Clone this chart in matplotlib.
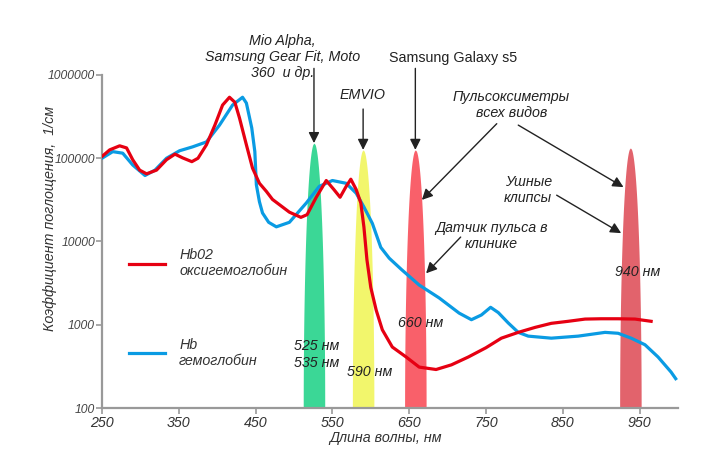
import numpy as np
import matplotlib.pyplot as plt
from matplotlib.ticker import FixedLocator, NullLocator

plt.rcParams['font.family'] = ['Liberation Sans', 'DejaVu Sans']

# HbO2 - oxyhemoglobin
hbo2_nm = [250, 260, 273, 282, 290, 299, 308, 321, 334, 345, 355, 367, 375, 386, 397, 407,
           416, 423, 429, 438, 446, 455, 464, 472, 494, 509, 517, 529, 542, 552, 560, 568,
           574, 581, 587, 591, 595, 600, 607, 615, 628, 646, 663, 685, 705, 727, 750, 770,
           792, 814, 835, 857, 879, 900, 922, 944, 965]
hbo2_val = [105000, 126000, 141000, 133000, 96000, 72000, 65000, 72000, 96000, 112000,
            101000, 91000, 100000, 145000, 250000, 435000, 540000, 470000, 305000, 145000,
            76000, 50000, 40000, 32000, 22500, 19500, 21000, 34000, 54000, 42000, 34000,
            46000, 56000, 42000, 29000, 15000, 6000, 2800, 1500, 870, 540, 410, 310, 290,
            330, 410, 530, 690, 810, 930, 1040, 1100, 1170, 1180, 1180, 1170, 1100]

# Hb - hemoglobin
hb_nm = [250, 264, 277, 290, 306, 319, 334, 351, 368, 386, 403, 420, 433, 438, 445, 449,
         451, 455, 459, 467, 477, 494, 516, 533, 550, 568, 581, 591, 602, 613, 624, 640,
         663, 689, 715, 731, 744, 756, 766, 779, 792, 805, 835, 870, 905, 922, 939, 957,
         974, 991, 997]
hb_val = [100000, 120000, 115000, 83000, 62000, 72000, 100000, 123000, 137000, 157000,
          250000, 435000, 540000, 460000, 231000, 120000, 48000, 30000, 22000, 17000, 15000,
          17000, 29000, 46000, 54000, 50000, 38000, 26000, 16500, 8500, 6300, 4600, 3000,
          2100, 1380, 1150, 1310, 1620, 1400, 1050, 810, 730, 690, 730, 810, 790, 690, 575,
          410, 270, 225]

# LED bands: centre wavelength, peak height, colour
band_nm = [526, 590, 658, 938]
band_top = [152000, 126000, 126000, 133000]
band_colors = ['#3bd796', '#f2f66c', '#f9606a', '#e2636c']
band_hw = 14

xticks = [250, 350, 450, 550, 650, 750, 850, 950]
yticks = [100, 1000, 10000, 100000, 1000000]
ytick_labels = ['100', '1000', '10000', '100000', '1000000']

fig = plt.figure(figsize=(7.01, 4.49), dpi=100)
ax = fig.add_axes([0.1455, 0.0913, 0.8217, 0.7417])

for c, top, col in zip(band_nm, band_top, band_colors):
    t = np.linspace(0, 1, 200)
    y = 10 ** (2 + t * (np.log10(top) - 2))
    half = band_hw * np.sqrt(1 - t ** 2)
    ax.fill_betweenx(y, c - half, c + half, color=col, lw=0, zorder=1)

ax.plot(hbo2_nm, hbo2_val, color='#e60012', lw=2.3, solid_joinstyle='round', zorder=4,
        label='Hb02\nоксигемоглобин')
ax.plot(hb_nm, hb_val, color='#0a9be3', lw=2.3, solid_joinstyle='round', zorder=3,
        label='Hb\nгемоглобин')

ax.set_yscale('log')
ax.set_xlim(250, 1000)
ax.set_ylim(100, 1000000)
ax.xaxis.set_major_locator(FixedLocator(xticks))
ax.xaxis.set_minor_locator(NullLocator())
ax.yaxis.set_major_locator(FixedLocator(yticks))
ax.yaxis.set_minor_locator(NullLocator())
ax.set_yticklabels(ytick_labels)

for s in ['top', 'right']:
    ax.spines[s].set_visible(False)
for s in ['left', 'bottom']:
    ax.spines[s].set_color('#999999')
    ax.spines[s].set_linewidth(1.6)
ax.tick_params(axis='both', colors='#999999', length=4, width=1.2)
ax.tick_params(axis='x', labelsize=10.3, labelcolor='#333333', pad=2)
ax.tick_params(axis='y', labelsize=8.7, labelcolor='#444444', pad=1)
for lab in ax.get_xticklabels() + ax.get_yticklabels():
    lab.set_fontstyle('italic')

ax.set_xlabel('Длина волны, нм', fontsize=10.3, style='italic', color='#333333')
ax.xaxis.set_label_coords(0.493, -0.07)
ax.set_ylabel('Коэффициент поглощения,  1/см', fontsize=10.3, style='italic', color='#333333')
ax.yaxis.set_label_coords(-0.078, 0.57)

leg = ax.legend(loc='upper left', bbox_to_anchor=(0.047, 0.48), frameon=False,
                prop={'size': 10.3, 'style': 'italic'}, handlelength=2.5,
                handletextpad=1.0, labelspacing=4.15, borderpad=0, borderaxespad=0)
for txt in leg.get_texts():
    txt.set_color('#333333')

tk = dict(fontsize=10.3, color='#222222', ha='center', va='center', zorder=6)

ax.text(485, 1.64e6, 'Mio Alpha,\nSamsung Gear Fit, Moto\n360  и др.', style='italic',
        clip_on=False, **tk)
ax.text(589, 5.75e5, 'EMVIO', style='italic', **tk)
ax.text(707, 1.6e6, 'Samsung Galaxy s5', clip_on=False, **tk)
ax.text(783, 4.36e5, 'Пульсоксиметры\nвсех видов', style='italic', **tk)
ax.text(805, 41600, 'Ушные\nклипсы', style='italic', **tk)
ax.text(757, 11650, 'Датчик пульса в\nклинике', style='italic', **tk)
ax.text(948, 4300, '940 нм', style='italic', **tk)
ax.text(665, 1050, '660 нм', style='italic', **tk)
ax.text(598, 270, '590 нм', style='italic', **tk)
ax.text(530, 440, '525 нм\n535 нм', style='italic', **tk)

ap = dict(arrowstyle='-|>', color='#222222', lw=1.0, mutation_scale=16, shrinkA=0, shrinkB=0)
arrows = [
    ((526, 152000), (526, 1.2e6)),
    ((590, 126000), (590, 3.9e5)),
    ((658, 126000), (658, 1.2e6)),
    ((666.5, 31600), (764, 2.6e5)),
    ((929, 45000), (792, 2.5e5)),
    ((926, 12600), (842, 36000)),
    ((672, 4150), (717, 11300)),
]
for tip, start in arrows:
    ax.annotate('', xy=tip, xytext=start, arrowprops=ap, annotation_clip=False, zorder=6)

fig.savefig('out.png', dpi=100)
